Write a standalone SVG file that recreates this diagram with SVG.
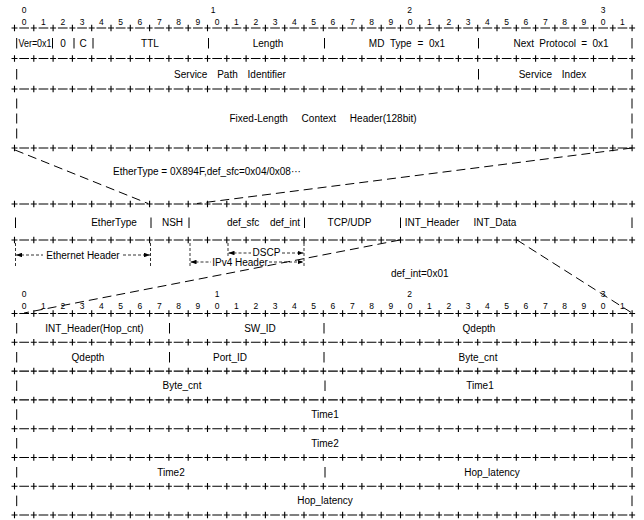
<svg xmlns="http://www.w3.org/2000/svg" xmlns:xlink="http://www.w3.org/1999/xlink" width="644" height="520" viewBox="0 0 644 520">
<style>
text { font-family: "Liberation Sans", Arial, sans-serif; font-size: 10px; fill: #000; dominant-baseline: central; }
.m { text-anchor: middle; }
.dg { font-size: 8.5px; }
.bar { stroke: #000; stroke-width: 1; fill: none; }
.sh { stroke: #000; stroke-width: 1.1; stroke-dasharray: 6 1.8 9.7 1.8; }
.sv { stroke: #000; stroke-width: 6.5; stroke-dasharray: 1.1 18.2; }
.conn { stroke: #000; stroke-width: 1; fill: none; stroke-dasharray: 9 5; }
.dim { stroke: #000; stroke-width: 0.8; fill: none; stroke-dasharray: 3 2; }
.dimline { stroke: #000; stroke-width: 0.8; fill: none; stroke-dasharray: 3 2; marker-start: url(#ah); }
.dimline2 { stroke: #000; stroke-width: 0.8; fill: none; stroke-dasharray: 3 2; marker-end: url(#ah); }
</style>
<defs>
  <marker id="ah" viewBox="0 0 8 6" refX="8" refY="3" markerWidth="6" markerHeight="4.5" markerUnits="userSpaceOnUse" orient="auto-start-reverse">
    <path d="M0,0 L8,3 L0,6 z" fill="#000"/>
  </marker>
  <g id="sep">
    <line class="sh" x1="11.5" y1="0" x2="635.1" y2="0"/>
    <line class="sv" x1="13.95" y1="0" x2="633" y2="0"/>
  </g>
</defs>
<rect width="644" height="520" fill="#fff"/>

<g id="nsh-header">
  <g id="bit-ruler-top">
    <text class="m dg" x="24.15" y="10">0</text>
    <text class="m dg" x="213" y="10">1</text>
    <text class="m dg" x="409.5" y="10">2</text>
    <text class="m dg" x="603" y="10">3</text>
    <text class="m dg" y="21.5" x="24.15 43.45 62.75 82.05 101.35 120.65 139.95 159.25 178.55 197.85 217.15 236.45 255.75 275.05 294.35 313.65 332.95 352.25 371.55 390.85 410.15 429.45 448.75 468.05 487.35 506.65 525.95 545.25 564.55 583.85 603.15 622.45">01234567890123456789012345678901</text>
  </g>
  <use xlink:href="#sep" y="28"/>
  <g id="nsh-base">
    <path class="bar" d="M16.7 38V48.5M52.5 38V48.5M74 38V48.5M93 38V48.5M208.5 38V48.5M324.5 38V48.5M478.5 38V48.5M632 38V48.5"/>
    <text x="18.5" y="43" textLength="33" lengthAdjust="spacingAndGlyphs">Ver=0x1</text>
    <text class="m" x="63" y="43">0</text>
    <text class="m" x="83" y="43">C</text>
    <text class="m" x="150" y="43">TTL</text>
    <text class="m" x="268" y="43">Length</text>
    <text class="m" x="407" y="43" word-spacing="3">MD Type = 0x1</text>
    <text class="m" x="561" y="43" word-spacing="2.5">Next Protocol = 0x1</text>
  </g>
  <use xlink:href="#sep" y="58.5"/>
  <g id="service-path">
    <path class="bar" d="M16.7 69V79.5M478.5 69V79.5M632 69V79.5"/>
    <text class="m" x="230" y="74" word-spacing="7">Service Path Identifier</text>
    <text class="m" x="552.5" y="74" word-spacing="7">Service Index</text>
  </g>
  <use xlink:href="#sep" y="89"/>
  <g id="context-header">
    <path class="bar" d="M16.7 98.5V108.5M16.7 113.5V123.5M16.7 128.5V138.5M632 98.5V108.5M632 113.5V123.5M632 128.5V138.5"/>
    <text class="m" x="323" y="118" word-spacing="11">Fixed-Length Context Header(128bit)</text>
  </g>
  <use xlink:href="#sep" y="148"/>
</g>

<g id="ethertype-note">
  <text x="113" y="171">EtherType = 0X894F,def_sfc=0x04/0x08···</text>
</g>

<g id="packet-layout">
  <use xlink:href="#sep" y="204"/>
  <path class="bar" d="M15.5 217.5V228M151 217.5V228M189 217.5V228M304.5 217.5V228M400.5 217.5V228M632 217.5V228"/>
  <text class="m" x="114" y="222.5">EtherType</text>
  <text class="m" x="172.5" y="222.5">NSH</text>
  <text class="m" x="263.5" y="222.5" word-spacing="8">def_sfc def_int</text>
  <text class="m" x="349.5" y="222.5">TCP/UDP</text>
  <text class="m" x="432" y="222.5">INT_Header</text>
  <text class="m" x="495" y="222.5">INT_Data</text>
  <use xlink:href="#sep" y="240"/>
</g>

<g id="ethernet-header-span">
  <path class="dim" d="M15.5 243V266M150.5 243V266"/>
  <path class="dimline" d="M16 255H43"/>
  <path class="dimline2" d="M123 255H150"/>
  <text class="m" x="83" y="255">Ethernet Header</text>
</g>
<g id="dscp-span">
  <path class="dim" d="M228 243V258M304 243V267"/>
  <path class="dimline" d="M228.5 253H251"/>
  <path class="dimline2" d="M282 253H303.5"/>
  <text class="m" x="266.5" y="252.5">DSCP</text>
</g>
<g id="ipv4-header-span">
  <path class="dim" d="M190 243V267"/>
  <path class="dimline" d="M190.5 262H211"/>
  <path class="dimline2" d="M269 262H303.5"/>
  <text class="m" x="240" y="262.5">IPv4 Header</text>
</g>
<g id="def-int-note">
  <text x="391" y="273">def_int=0x01</text>
</g>

<g id="int-data">
  <g id="bit-ruler-bottom">
    <text class="m dg" x="24.15" y="294">0</text>
    <text class="m dg" x="217" y="294">1</text>
    <text class="m dg" x="409.5" y="294">2</text>
    <text class="m dg" x="603" y="294">3</text>
    <text class="m dg" y="305.5" x="24.15 43.45 62.75 82.05 101.35 120.65 139.95 159.25 178.55 197.85 217.15 236.45 255.75 275.05 294.35 313.65 332.95 352.25 371.55 390.85 410.15 429.45 448.75 468.05 487.35 506.65 525.95 545.25 564.55 583.85 603.15 622.45">01234567890123456789012345678901</text>
  </g>
  <use xlink:href="#sep" y="313.5"/>
  <g id="row-hop-cnt">
    <path class="bar" d="M16.7 323V333.5M169.5 323V333.5M324 323V333.5M632 323V333.5"/>
    <text class="m" x="94.5" y="328">INT_Header(Hop_cnt)</text>
    <text class="m" x="260" y="328">SW_ID</text>
    <text class="m" x="479" y="328">Qdepth</text>
  </g>
  <use xlink:href="#sep" y="342.3"/>
  <g id="row-port">
    <path class="bar" d="M16.7 352V362.5M169.5 352V362.5M324 352V362.5M632 352V362.5"/>
    <text class="m" x="88" y="357">Qdepth</text>
    <text class="m" x="230" y="357">Port_ID</text>
    <text class="m" x="478" y="357">Byte_cnt</text>
  </g>
  <use xlink:href="#sep" y="371.1"/>
  <g id="row-bytecnt">
    <path class="bar" d="M16.7 380.5V391M325 380.5V391M632 380.5V391"/>
    <text class="m" x="182" y="385.5">Byte_cnt</text>
    <text class="m" x="480" y="385.5">Time1</text>
  </g>
  <use xlink:href="#sep" y="399.9"/>
  <g id="row-time1">
    <path class="bar" d="M16.7 409.3V419.8M632 409.3V419.8"/>
    <text class="m" x="325" y="414.3">Time1</text>
  </g>
  <use xlink:href="#sep" y="428.7"/>
  <g id="row-time2">
    <path class="bar" d="M16.7 438V448.5M632 438V448.5"/>
    <text class="m" x="325" y="443">Time2</text>
  </g>
  <use xlink:href="#sep" y="457.5"/>
  <g id="row-hop-latency">
    <path class="bar" d="M16.7 467V477.5M325 467V477.5M632 467V477.5"/>
    <text class="m" x="171" y="472">Time2</text>
    <text class="m" x="492" y="472">Hop_latency</text>
  </g>
  <use xlink:href="#sep" y="486.2"/>
  <g id="row-hop-latency-2">
    <path class="bar" d="M16.7 495.6V506.1M632 495.6V506.1"/>
    <text class="m" x="325" y="500.6">Hop_latency</text>
  </g>
  <use xlink:href="#sep" y="515"/>
</g>

<g id="connectors">
  <path class="conn" d="M15 150L148 203.5"/>
  <path class="conn" d="M632 148L197 203.5"/>
  <path class="conn" d="M400 240L24 313"/>
  <path class="conn" d="M517 240L632 313"/>
</g>
</svg>
